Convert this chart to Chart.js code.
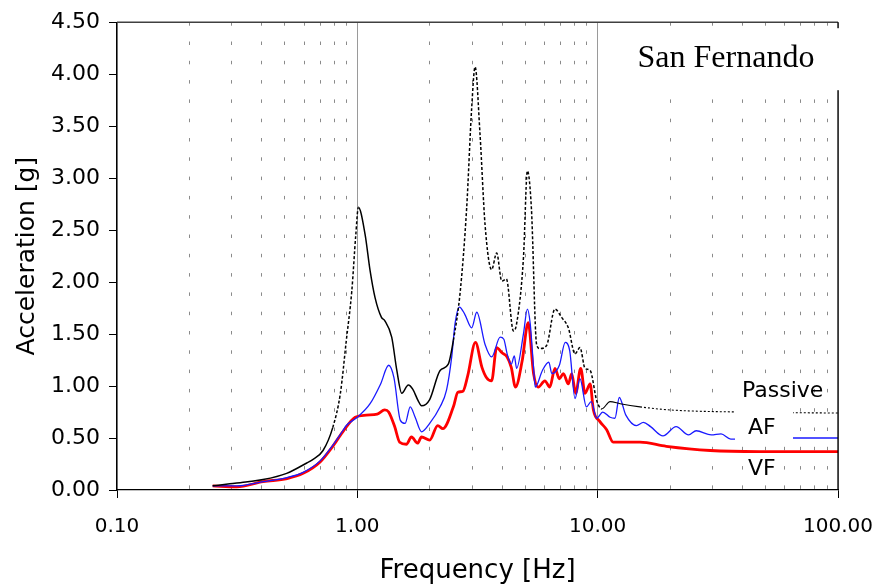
<!DOCTYPE html>
<html>
<head>
<meta charset="utf-8">
<script src="https://cdn.jsdelivr.net/npm/chart.js@4"></script>
<style>
  html, body { margin: 0; padding: 0; background: #fff; }
</style>
</head>
<body>
<canvas id="grafico" width="880" height="588"></canvas>
<script>
// Frecuencias [Hz] y aceleraciones [g]
const passiveFreq = [0.25, 0.295, 0.35, 0.405, 0.508, 0.616, 0.65, 0.72, 0.79, 0.85, 0.90, 0.948, 0.985, 1.01,
  1.077, 1.13, 1.185, 1.26, 1.30, 1.39, 1.46, 1.53, 1.63, 1.70, 1.79, 1.85, 2.0, 2.21, 2.39, 2.51, 2.68, 2.85,
  2.99, 3.09, 3.24, 3.40, 3.62, 3.80, 3.99, 4.17, 4.46, 4.6, 4.91, 5.10, 5.3, 5.57, 5.75, 6.13, 6.64, 7.08,
  7.55, 8.05, 8.44, 8.86, 9.3, 9.91, 10.4, 11.26, 12.4, 15, 20, 39, 100];
const passiveAcc = [0.04, 0.06, 0.08, 0.10, 0.16, 0.26, 0.29, 0.38, 0.60, 0.93, 1.44, 1.91, 2.45, 2.72,
  2.46, 2.11, 1.85, 1.66, 1.63, 1.47, 1.15, 0.93, 1.01, 0.97, 0.86, 0.81, 0.87, 1.15, 1.21, 1.44, 1.91, 2.71,
  3.67, 4.07, 3.42, 2.55, 2.12, 2.28, 2.01, 2.03, 1.53, 1.60, 2.23, 3.07, 2.71, 1.40, 1.36, 1.39, 1.74, 1.66,
  1.56, 1.31, 1.37, 1.17, 1.15, 0.86, 0.78, 0.85, 0.83, 0.80, 0.77, 0.75, 0.74];

const afFreq = [0.25, 0.315, 0.405, 0.51, 0.595, 0.70, 0.79, 0.87, 0.90, 1.0, 1.13, 1.25, 1.35, 1.42, 1.51,
  1.58, 1.66, 1.74, 1.85, 2.0, 2.21, 2.35, 2.47, 2.55, 2.66, 2.8, 2.99, 3.14, 3.40, 3.62, 3.93, 4.07, 4.2,
  4.37, 4.5, 4.6, 4.91, 5.10, 5.24, 5.41, 5.5, 5.89, 6.26, 6.45, 6.93, 7.33, 7.65, 8.05, 8.44, 8.98, 9.4,
  9.91, 10.5, 11.26, 11.8, 12.3, 13.1, 14.5, 15.5, 16.6, 18.7, 21.2, 23.9, 25.7, 29.7, 32.6, 35.8, 50, 100];
const afAcc = [0.04, 0.04, 0.08, 0.12, 0.17, 0.28, 0.43, 0.57, 0.62, 0.70, 0.83, 1.02, 1.20, 1.08, 0.67,
  0.64, 0.80, 0.70, 0.56, 0.64, 0.80, 0.96, 1.28, 1.60, 1.76, 1.69, 1.56, 1.71, 1.40, 1.28, 1.47, 1.45, 1.31,
  1.21, 1.29, 1.17, 1.50, 1.74, 1.60, 1.18, 0.99, 1.15, 1.23, 1.12, 1.20, 1.42, 1.34, 0.88, 1.07, 0.80, 0.85,
  0.69, 0.75, 0.70, 0.69, 0.89, 0.72, 0.62, 0.65, 0.61, 0.52, 0.61, 0.53, 0.57, 0.53, 0.54, 0.49, 0.50, 0.50];

const vfFreq = [0.25, 0.315, 0.405, 0.51, 0.595, 0.70, 0.79, 0.87, 0.98, 1.09, 1.21, 1.30, 1.35, 1.43, 1.50,
  1.6, 1.68, 1.78, 1.85, 2.0, 2.16, 2.27, 2.51, 2.62, 2.75, 2.88, 3.1, 3.3, 3.45, 3.62, 3.8, 4.0, 4.2, 4.37,
  4.55, 4.85, 5.14, 5.41, 5.66, 6.03, 6.32, 6.64, 6.93, 7.2, 7.55, 7.8, 8.1, 8.5, 8.86, 9.3, 9.6, 10.2, 10.9,
  11.6, 13.1, 15.0, 19.3, 29.4, 47, 100];
const vfAcc = [0.04, 0.03, 0.08, 0.11, 0.16, 0.27, 0.42, 0.56, 0.70, 0.72, 0.73, 0.77, 0.75, 0.61, 0.46,
  0.44, 0.51, 0.45, 0.51, 0.48, 0.62, 0.59, 0.80, 0.94, 0.95, 1.10, 1.42, 1.18, 1.08, 1.05, 1.37, 1.32, 1.28, 1.18,
  0.99, 1.24, 1.61, 1.12, 0.99, 1.05, 0.99, 1.17, 1.07, 1.12, 1.02, 1.12, 0.93, 1.17, 0.93, 1.02, 0.77, 0.66, 0.58,
  0.46, 0.46, 0.46, 0.42, 0.38, 0.37, 0.37];

// Ejes
const xDecades = [0.1, 1, 10, 100];
const xMinorSteps = [2, 3, 4, 5, 6, 7, 8, 9];
const yTicks = [0, 0.5, 1, 1.5, 2, 2.5, 3, 3.5, 4, 4.5];

const FONT = "'DejaVu Sans', Arial, sans-serif";

function esDecada(v) {
  return xDecades.some((d) => Math.abs(v - d) < d * 1e-6);
}

function puntos(fs, vs) {
  return fs.map((f, i) => ({ x: f, y: vs[i] }));
}

// Excel dibuja la linea "Passive" punteada donde los tramos son largos
function passiveDash(ctx) {
  const f = ctx.p0.parsed.x;
  if ((f >= 0.79 && f < 1.0) || (f >= 2.45 && f < 10)) return [3, 2];
  if (f >= 14) return [2, 2];
  return undefined;
}

function passiveWidth(ctx) {
  return ctx.p0.parsed.x >= 10 ? 1.1 : 1.5;
}

const decoracion = {
  id: "decoracion",
  afterDraw(chart) {
    const { ctx, chartArea: a } = chart;
    ctx.save();
    // marco superior y derecho
    ctx.strokeStyle = "#404040";
    ctx.lineWidth = 1.5;
    ctx.beginPath();
    ctx.moveTo(a.left, a.top);
    ctx.lineTo(a.right, a.top);
    ctx.stroke();
    ctx.strokeStyle = "#000";
    ctx.lineWidth = 1.3;
    ctx.beginPath();
    ctx.moveTo(a.right, a.top);
    ctx.lineTo(a.right, a.bottom);
    ctx.stroke();

    // cuadro de titulo
    ctx.fillStyle = "#fff";
    ctx.fillRect(600, a.top + 6, 250, 62);
    ctx.fillStyle = "#000";
    ctx.font = "32px 'Liberation Serif', 'Times New Roman', serif";
    ctx.textAlign = "center";
    ctx.textBaseline = "middle";
    ctx.fillText("San Fernando", 726, 59);

    // leyenda
    ctx.fillStyle = "#fff";
    ctx.fillRect(735, 376, 58, 70);
    ctx.fillStyle = "#000";
    ctx.font = "22px " + FONT;
    ctx.textAlign = "left";
    ctx.fillText("Passive", 742, 391);
    ctx.fillText("AF", 748, 428);
    ctx.fillText("VF", 748, 469);
    ctx.restore();
  },
};

new Chart(document.getElementById("grafico").getContext("2d"), {
  type: "line",
  data: {
    datasets: [
      {
        label: "Passive",
        data: puntos(passiveFreq, passiveAcc),
        borderColor: "#000",
        borderWidth: 1.5,
        pointRadius: 0,
        cubicInterpolationMode: "monotone",
        segment: { borderDash: passiveDash, borderWidth: passiveWidth },
      },
      {
        label: "AF",
        data: puntos(afFreq, afAcc),
        borderColor: "#1a1aff",
        borderWidth: 1.3,
        pointRadius: 0,
        cubicInterpolationMode: "monotone",
      },
      {
        label: "VF",
        data: puntos(vfFreq, vfAcc),
        borderColor: "#ff0000",
        borderWidth: 2.8,
        pointRadius: 0,
        cubicInterpolationMode: "monotone",
      },
    ],
  },
  options: {
    responsive: false,
    animation: false,
    events: [],
    layout: { padding: { top: 20, right: 42, left: 0, bottom: 0 } },
    plugins: { legend: { display: false }, tooltip: { enabled: false } },
    scales: {
      x: {
        type: "logarithmic",
        min: 0.1,
        max: 100,
        afterBuildTicks: (scale) => {
          const ticks = [];
          xDecades.forEach((d, i) => {
            ticks.push({ value: d });
            if (i < xDecades.length - 1) xMinorSteps.forEach((m) => ticks.push({ value: d * m }));
          });
          scale.ticks = ticks;
        },
        afterFit: (scale) => {
          scale.height = 98;
          scale.paddingLeft = 0;
          scale.paddingRight = 0;
        },
        ticks: {
          autoSkip: false,
          maxRotation: 0,
          padding: 17,
          color: "#000",
          font: { family: FONT, size: 20 },
          callback: (v) => (esDecada(v) ? Number(v).toFixed(2) : ""),
        },
        grid: {
          color: (c) => (c.tick && esDecada(c.tick.value) ? "#9a9a9a" : "#8a8a8a"),
          lineWidth: 1,
          tickLength: 8,
          tickColor: (c) => (c.tick && esDecada(c.tick.value) ? "#000" : "rgba(0,0,0,0)"),
        },
        border: {
          color: "#000",
          width: 1.3,
          dash: (c) => (c.tick && !esDecada(c.tick.value) ? [3.5, 15.8] : []),
        },
        title: {
          display: true,
          text: "Frequency [Hz]",
          color: "#000",
          font: { family: FONT, size: 26 },
          padding: { top: 0, bottom: 1 },
        },
      },
      y: {
        min: 0,
        max: 4.5,
        afterBuildTicks: (scale) => { scale.ticks = yTicks.map((v) => ({ value: v })); },
        afterFit: (scale) => { scale.width = 117; },
        ticks: {
          padding: 9,
          color: "#000",
          font: { family: FONT, size: 22 },
          callback: (v) => Number(v).toFixed(2),
        },
        grid: { drawOnChartArea: false, tickLength: 8, tickColor: "#000" },
        border: { color: "#000", width: 1.3 },
        title: {
          display: true,
          text: "Acceleration [g]",
          color: "#000",
          font: { family: FONT, size: 25 },
          padding: { top: 12, bottom: 0 },
        },
      },
    },
  },
  plugins: [decoracion],
});
</script>
</body>
</html>
